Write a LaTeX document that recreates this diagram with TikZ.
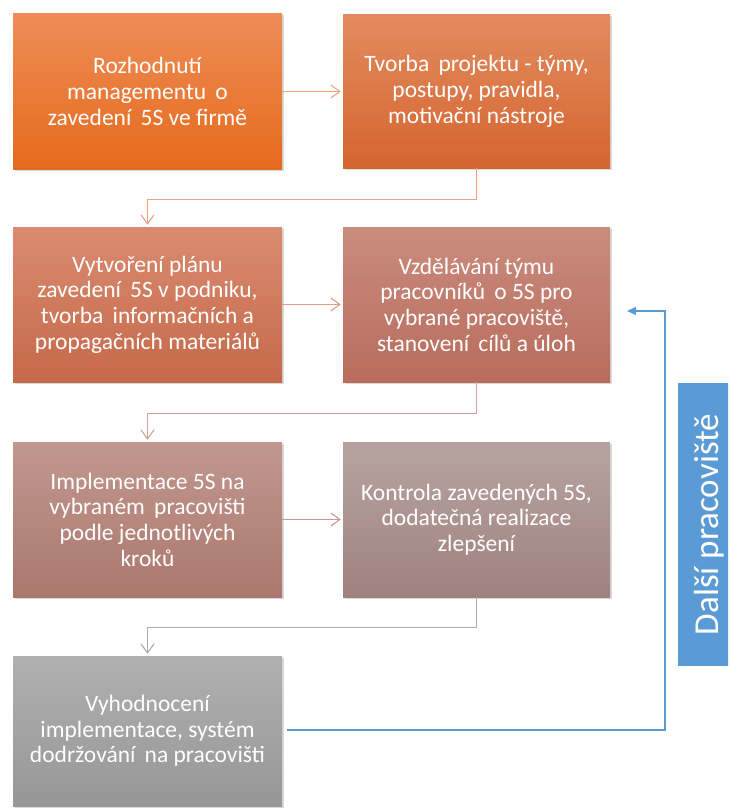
\documentclass[tikz,border=0pt]{standalone}
\usepackage{fontspec}
\setmainfont{Carlito}
\usetikzlibrary{arrows.meta,shadows}
\definecolor{t1}{HTML}{EF8D57}\definecolor{b1}{HTML}{E56A1C}
\definecolor{t2}{HTML}{E38B5F}\definecolor{b2}{HTML}{D4652F}
\definecolor{t3}{HTML}{D98B70}\definecolor{b3}{HTML}{C6694A}
\definecolor{t4}{HTML}{CA8C7F}\definecolor{b4}{HTML}{B86C5B}
\definecolor{t5}{HTML}{C1988F}\definecolor{b5}{HTML}{AB776D}
\definecolor{t6}{HTML}{B7A4A2}\definecolor{b6}{HTML}{9F827E}
\definecolor{t7}{HTML}{B0B0B0}\definecolor{b7}{HTML}{979797}
\definecolor{bluebox}{HTML}{5B9BD5}
\definecolor{c12}{HTML}{F2A57F}
\definecolor{c23}{HTML}{E9A484}
\definecolor{c34}{HTML}{DFA08A}
\definecolor{c45}{HTML}{D5A09A}
\definecolor{c56}{HTML}{C49A95}
\definecolor{c67}{HTML}{ABABAB}
\tikzset{
  stepbox/.style={rectangle, inner sep=0pt, text=white, align=center,
    font=\fontsize{23.5}{25.7}\selectfont,
    drop shadow={shadow xshift=1.5pt, shadow yshift=-1.5pt, opacity=0.3}},
  flow/.style={line width=1.2pt, -{Straight Barb[length=9pt,width=13pt,line width=1.1pt]}, shorten >=2pt},
  back/.style={line width=1.2pt, draw=bluebox, -{Triangle[length=9pt,width=8pt]}},
}
\begin{document}
\begin{tikzpicture}[x=1pt,y=-1pt]
\useasboundingbox (0,0) rectangle (728,808);
\clip (0,0) rectangle (728,808);
\node[stepbox, minimum width=269pt, minimum height=155pt, top color=t1, bottom color=b1] (n1) at (147.5,91.5) {Rozhodnutí\\managementu\, o\\zavedení\, 5S ve firmě};
\node[stepbox, minimum width=267pt, minimum height=153pt, top color=t2, bottom color=b2] (n2) at (476.5,91.5) {Tvorba\, projektu - týmy,\\postupy, pravidla,\\motivační nástroje};
\node[stepbox, minimum width=269pt, minimum height=155pt, top color=t3, bottom color=b3] (n3) at (147.5,304.5) {Vytvoření plánu\\zavedení\, 5S v podniku,\\tvorba\, informačních a\\propagačních materiálů};
\node[stepbox, minimum width=267pt, minimum height=155pt, top color=t4, bottom color=b4] (n4) at (476.5,304.5) {Vzdělávání týmu\\pracovníků\, o 5S pro\\vybrané pracoviště,\\stanovení\, cílů a úloh};
\node[stepbox, minimum width=269pt, minimum height=155pt, top color=t5, bottom color=b5] (n5) at (147.5,519.5) {Implementace 5S na\\vybraném\, pracovišti\\podle jednotlivých\\kroků};
\node[stepbox, minimum width=267pt, minimum height=155pt, top color=t6, bottom color=b6] (n6) at (476.5,519.5) {Kontrola zavedených 5S,\\dodatečná realizace\\zlepšení};
\node[stepbox, minimum width=269pt, minimum height=150pt, top color=t7, bottom color=b7] (n7) at (147.5,731) {Vyhodnocení\\implementace, systém\\dodržování\, na pracovišti};
\node[rectangle, fill=bluebox, minimum width=62pt, minimum height=283pt, inner sep=0pt] (lbl) at (709,524.5) {};
\node[text=white, rotate=90, font=\fontsize{35}{38}\selectfont, inner sep=0pt] (lbltext) at (lbl.center) {Další pracoviště};
\draw[flow, draw=c12] (n1.east) -- (n2.west);
\draw[flow, draw=c23] (n2.south) -- ++(0,31) -| (n3.north);
\draw[flow, draw=c34] (n3.east) -- (n4.west);
\draw[flow, draw=c45] (n4.south) -- ++(0,31) -| (n5.north);
\draw[flow, draw=c56] (n5.east) -- (n6.west);
\draw[flow, draw=c67] (n6.south) -- ++(0,30) -| (n7.north);
\coordinate (turn) at (665,311);
\coordinate (tip) at (627,311);
\draw[back] ([xshift=5pt,yshift=1pt]n7.east) -| (turn) -- (tip);
\end{tikzpicture}
\end{document}
